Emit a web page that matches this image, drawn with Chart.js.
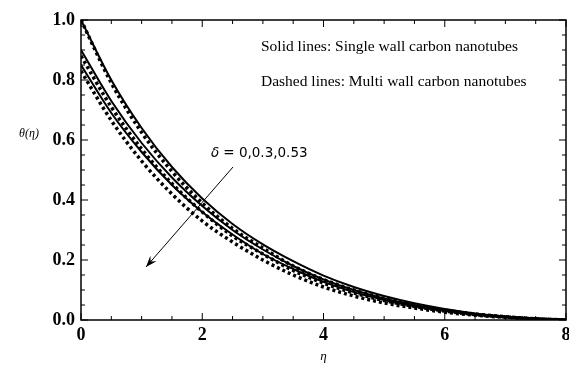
<!DOCTYPE html>
<html>
<head>
<meta charset="utf-8">
<script src="https://cdn.jsdelivr.net/npm/chart.js@4.4.1/dist/chart.umd.min.js"></script>
<style>
  html, body { margin: 0; padding: 0; background: #fff; }
  #wrap { width: 569px; height: 372px; }
</style>
</head>
<body>
<div id="wrap"><canvas id="theta-chart"></canvas></div>
<script>
// eta grid (x values)
const eta = [0, 0.5, 1, 1.5, 2, 2.5, 3, 3.5, 4, 4.5, 5, 5.5, 6, 6.5, 7, 7.5, 8];

// single wall carbon nanotubes (solid), delta = 0, 0.3, 0.53
const swcnt0  = [1.00, 0.80, 0.64, 0.51, 0.405, 0.32, 0.252, 0.196, 0.148, 0.11, 0.08, 0.056, 0.037, 0.022, 0.012, 0.005, 0.0];
const swcnt3  = [0.90, 0.73, 0.59, 0.475, 0.38, 0.30, 0.235, 0.18, 0.135, 0.10, 0.072, 0.05, 0.033, 0.02, 0.011, 0.004, 0.0];
const swcnt53 = [0.85, 0.69, 0.56, 0.45, 0.36, 0.285, 0.22, 0.17, 0.127, 0.093, 0.067, 0.047, 0.031, 0.019, 0.01, 0.004, 0.0];

// multi wall carbon nanotubes (dashed)
const mwcnt0  = [1.00, 0.79, 0.625, 0.495, 0.39, 0.305, 0.24, 0.18, 0.135, 0.10, 0.072, 0.05, 0.033, 0.02, 0.011, 0.004, 0.0];
const mwcnt3  = [0.88, 0.71, 0.57, 0.455, 0.36, 0.28, 0.22, 0.165, 0.123, 0.09, 0.065, 0.045, 0.03, 0.018, 0.01, 0.004, 0.0];
const mwcnt53 = [0.83, 0.665, 0.53, 0.42, 0.33, 0.26, 0.20, 0.15, 0.11, 0.08, 0.057, 0.04, 0.026, 0.016, 0.009, 0.003, 0.0];

// tick marks
const xMajor = [0, 2, 4, 6, 8];
const yMajor = [0, 0.2, 0.4, 0.6, 0.8, 1.0];
const xMinorStep = 0.5;
const yMinorStep = 0.05;

function pts(ys) {
  return ys.map(function(y, i) { return { x: eta[i], y: y }; });
}

function solid(label, ys) {
  return { label: label, data: pts(ys), borderColor: "#000", borderWidth: 2,
           pointRadius: 0, cubicInterpolationMode: "monotone", fill: false };
}
function dashed(label, ys) {
  return { label: label, data: pts(ys), borderColor: "#000", borderWidth: 3.5,
           borderDash: [3, 3], pointRadius: 0, cubicInterpolationMode: "monotone", fill: false };
}

// frame, inward ticks, axis titles and annotations
const decorations = {
  id: "decorations",
  afterDraw: function(chart) {
    const ctx = chart.ctx;
    const a = chart.chartArea;
    const xs = chart.scales.x, ys = chart.scales.y;
    ctx.save();
    ctx.strokeStyle = "#000";
    ctx.lineWidth = 1.5;
    ctx.strokeRect(a.left, a.top, a.right - a.left, a.bottom - a.top);

    ctx.lineWidth = 1;
    ctx.beginPath();
    for (let v = 0; v <= 8.0001; v += xMinorStep) {
      const px = xs.getPixelForValue(v);
      const len = xMajor.indexOf(Math.round(v * 10) / 10) >= 0 ? 7 : 4;
      ctx.moveTo(px, a.bottom); ctx.lineTo(px, a.bottom - len);
      ctx.moveTo(px, a.top); ctx.lineTo(px, a.top + len);
    }
    for (let v = 0; v <= 1.0001; v += yMinorStep) {
      const py = ys.getPixelForValue(v);
      const major = yMajor.some(function(m) { return Math.abs(m - v) < 1e-6; });
      const len = major ? 7 : 4;
      ctx.moveTo(a.left, py); ctx.lineTo(a.left + len, py);
      ctx.moveTo(a.right, py); ctx.lineTo(a.right - len, py);
    }
    ctx.stroke();

    ctx.fillStyle = "#000";
    // axis titles
    ctx.font = "italic 13px 'Liberation Serif'";
    ctx.textAlign = "center";
    ctx.textBaseline = "middle";
    ctx.fillText("\u03b7", xs.getPixelForValue(4), 357);
    ctx.font = "italic 12px 'Liberation Serif'";
    ctx.fillText("\u03b8(\u03b7)", 29, 134);

    // legend notes
    ctx.textAlign = "left";
    ctx.font = "15.5px 'Liberation Serif'";
    ctx.fillText("Solid lines: Single wall carbon nanotubes", 261, 47);
    ctx.fillText("Dashed lines: Multi wall carbon nanotubes", 261, 82);

    // delta annotation
    ctx.font = "italic 13.5px 'DejaVu Sans'";
    ctx.fillText("\u03b4", 211, 153);
    ctx.font = "13.5px 'DejaVu Sans'";
    ctx.fillText(" = 0,0.3,0.53", 219, 153);

    // arrow
    const x1 = 233, y1 = 167, x2 = 146, y2 = 267;
    ctx.lineWidth = 1;
    ctx.beginPath();
    ctx.moveTo(x1, y1); ctx.lineTo(x2, y2);
    ctx.stroke();
    const ang = Math.atan2(y2 - y1, x2 - x1);
    const hl = 12, hw = 0.35;
    ctx.beginPath();
    ctx.moveTo(x2, y2);
    ctx.lineTo(x2 - hl * Math.cos(ang - hw), y2 - hl * Math.sin(ang - hw));
    ctx.lineTo(x2 - hl * 0.6 * Math.cos(ang), y2 - hl * 0.6 * Math.sin(ang));
    ctx.lineTo(x2 - hl * Math.cos(ang + hw), y2 - hl * Math.sin(ang + hw));
    ctx.closePath();
    ctx.fill();
    ctx.restore();
  }
};

new Chart("theta-chart", {
  type: "line",
  data: {
    datasets: [
      solid("SWCNT d=0", swcnt0),
      solid("SWCNT d=0.3", swcnt3),
      solid("SWCNT d=0.53", swcnt53),
      dashed("MWCNT d=0", mwcnt0),
      dashed("MWCNT d=0.3", mwcnt3),
      dashed("MWCNT d=0.53", mwcnt53)
    ]
  },
  options: {
    responsive: true,
    maintainAspectRatio: false,
    animation: false,
    layout: { padding: { left: 0, right: 3, top: 20, bottom: 0 } },
    scales: {
      x: {
        type: "linear",
        min: 0, max: 8,
        grid: { display: false, drawTicks: false },
        border: { display: false },
        ticks: {
          stepSize: 2,
          maxRotation: 0,
          padding: 5,
          color: "#000",
          font: { family: "'Liberation Serif'", size: 18, weight: "bold" }
        },
        afterFit: function(scale) { scale.height = 52; scale.paddingLeft = 0; scale.paddingRight = 0; }
      },
      y: {
        min: 0, max: 1,
        grid: { display: false, drawTicks: false },
        border: { display: false },
        ticks: {
          stepSize: 0.2,
          padding: 6,
          color: "#000",
          font: { family: "'Liberation Serif'", size: 18, weight: "bold" },
          callback: function(value) { return value.toFixed(1); }
        },
        afterFit: function(scale) { scale.width = 81; scale.paddingTop = 0; scale.paddingBottom = 0; }
      }
    },
    plugins: {
      legend: { display: false },
      tooltip: { enabled: false }
    }
  },
  plugins: [decorations]
});
</script>
</body>
</html>
